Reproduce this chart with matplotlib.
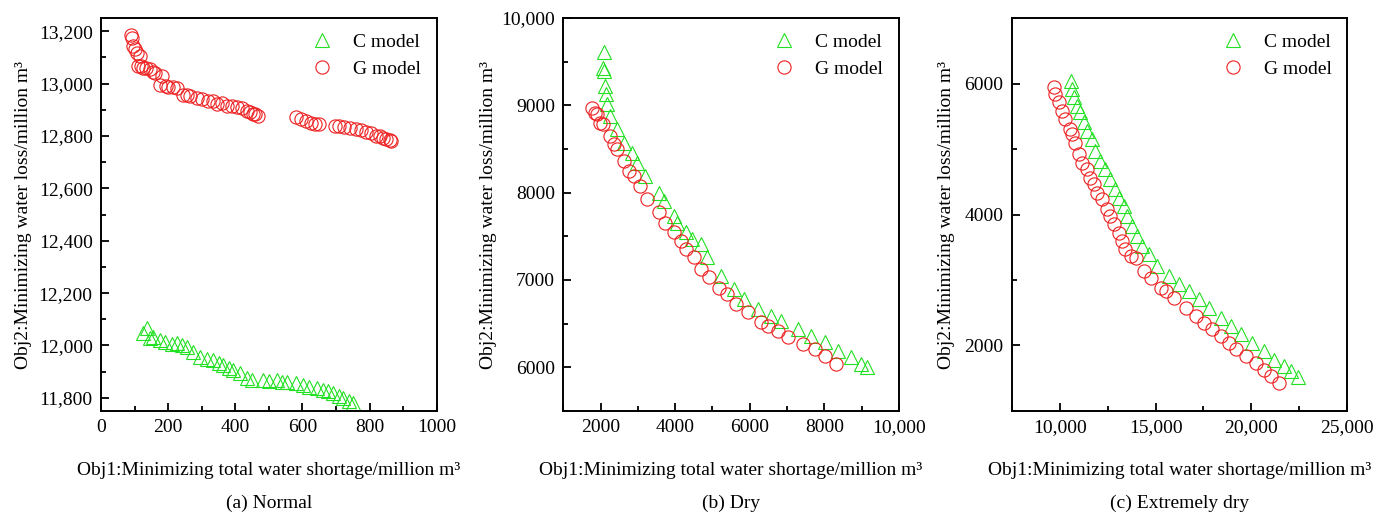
import matplotlib
matplotlib.use("Agg")
import matplotlib.pyplot as plt
from matplotlib.ticker import MultipleLocator, FuncFormatter

plt.rcParams['font.family'] = ['Liberation Serif', 'DejaVu Serif']

# (a) Normal
normal_c_x = [126, 136, 145, 156, 175, 190, 210, 225, 240, 255, 275, 295, 315, 334, 350, 364,
              380, 394, 415, 434, 450, 483, 500, 523, 540, 553, 580, 602, 620, 642, 660, 675,
              691, 710, 721, 740, 751]
normal_c_y = [12047, 12066, 12030, 12034, 12020, 12015, 12005, 12008, 12000, 11995, 11975, 11957,
              11950, 11945, 11935, 11925, 11915, 11906, 11895, 11875, 11870, 11868, 11865, 11868,
              11860, 11862, 11855, 11849, 11840, 11836, 11830, 11825, 11817, 11808, 11798, 11790,
              11779]
normal_g_x = [88, 91, 94, 100, 106, 111, 116, 120, 126, 135, 146, 155, 161, 176, 181, 195, 200,
              215, 225, 245, 255, 265, 285, 300, 320, 335, 345, 360, 374, 390, 404, 420, 434,
              445, 454, 460, 469, 582, 595, 612, 625, 637, 650, 696, 710, 725, 741, 760, 775,
              790, 805, 820, 830, 840, 850, 860, 865]
normal_g_y = [13187, 13175, 13143, 13130, 13117, 13066, 13105, 13065, 13060, 13058, 13054, 13045,
              13041, 12996, 13028, 12990, 12988, 12985, 12984, 12958, 12955, 12951, 12945, 12939,
              12935, 12932, 12923, 12925, 12916, 12913, 12909, 12905, 12894, 12892, 12885, 12882,
              12875, 12873, 12866, 12856, 12850, 12847, 12845, 12839, 12836, 12835, 12830, 12828,
              12824, 12814, 12810, 12801, 12798, 12792, 12790, 12783, 12780]

# (b) Dry
dry_c_x = [2105, 2078, 2100, 2124, 2140, 2170, 2259, 2439, 2617, 2843, 2978, 3202, 3560, 3695,
           3964, 4057, 4280, 4461, 4685, 4866, 5224, 5583, 5852, 6213, 6571, 6841, 7290, 7649,
           8008, 8369, 8728, 8997, 9132]
dry_c_y = [9610, 9431, 9392, 9221, 9126, 9011, 8878, 8725, 8573, 8459, 8344, 8191, 8001, 7905,
           7734, 7658, 7544, 7467, 7410, 7258, 7048, 6895, 6781, 6666, 6590, 6533, 6437, 6361,
           6285, 6189, 6113, 6038, 6000]
dry_g_x = [1765, 1854, 1900, 1989, 2078, 2259, 2348, 2439, 2617, 2752, 2887, 3067, 3248, 3560,
           3741, 3964, 4145, 4280, 4504, 4685, 4909, 5178, 5404, 5628, 5943, 6302, 6482, 6751,
           7021, 7425, 7738, 8008, 8323]
dry_g_y = [8974, 8916, 8897, 8802, 8783, 8649, 8554, 8497, 8363, 8248, 8191, 8077, 7925, 7773,
           7658, 7544, 7448, 7353, 7258, 7124, 7029, 6914, 6838, 6724, 6628, 6514, 6476, 6419,
           6343, 6266, 6209, 6133, 6038]

# (c) Extremely dry
xdry_c_x = [10596, 10648, 10732, 10909, 11082, 11254, 11432, 11693, 11865, 12127, 12388, 12649,
            12910, 13083, 13344, 13522, 13783, 14044, 14305, 14650, 15089, 15695, 16218, 16740,
            17263, 17785, 18397, 18919, 19442, 20053, 20659, 21181, 21704, 22054, 22403]
xdry_c_y = [6041, 5914, 5787, 5659, 5558, 5405, 5277, 5150, 4971, 4818, 4691, 4538, 4385, 4258,
            4130, 3977, 3824, 3671, 3518, 3390, 3213, 3060, 2933, 2830, 2703, 2576, 2424, 2295,
            2168, 2041, 1913, 1786, 1684, 1607, 1520]
xdry_g_x = [9686, 9775, 9948, 10125, 10298, 10559, 10648, 10820, 10993, 11170, 11432, 11604,
            11777, 11954, 12215, 12477, 12649, 12821, 13083, 13260, 13433, 13694, 13955, 14389,
            14739, 15262, 15523, 15957, 16568, 17090, 17524, 17963, 18397, 18830, 19180, 19703,
            20226, 20659, 21009, 21443]
xdry_g_y = [5940, 5838, 5711, 5582, 5456, 5303, 5226, 5099, 4920, 4793, 4691, 4564, 4462, 4335,
            4232, 4079, 3977, 3850, 3723, 3595, 3468, 3365, 3341, 3136, 3035, 2882, 2830, 2729,
            2576, 2448, 2347, 2245, 2142, 2041, 1939, 1836, 1735, 1633, 1531, 1430]

captions = ["(a) Normal", "(b) Dry", "(c) Extremely dry"]
xlabel = "Obj1:Minimizing total water shortage/million m\u00b3"
ylabel = "Obj2:Minimizing water loss/million m\u00b3"

green = '#22e022'
red = '#ee2020'
fs = 14


def fmt(v, pos):
    # thousands separator only from 10,000 up, like the original
    if abs(v) >= 10000:
        return "{:,.0f}".format(v)
    return "{:.0f}".format(v)


fig = plt.figure(figsize=(13.88, 5.16), dpi=100)
lefts = [0.0728, 0.4058, 0.7289]
axes = [fig.add_axes([l, 0.2035, 0.2418, 0.7616]) for l in lefts]

panels = [
    (normal_c_x, normal_c_y, normal_g_x, normal_g_y, (0, 1000), (11750, 13250), 200, 100, 200, 100, -0.205),
    (dry_c_x, dry_c_y, dry_g_x, dry_g_y, (1000, 10000), (5500, 10000), 2000, 1000, 1000, 500, -0.196),
    (xdry_c_x, xdry_c_y, xdry_g_x, xdry_g_y, (7500, 25000), (1000, 7000), 5000, 2500, 2000, 1000, -0.17),
]

for ax, p, cap in zip(axes, panels, captions):
    cx, cy, gx, gy, xl, yl, xmaj, xmin, ymaj, ymin, ylx = p
    ax.plot(cx, cy, linestyle='none', marker='^', markersize=10, mfc='none',
            mec=green, mew=0.8, label='C model')
    ax.plot(gx, gy, linestyle='none', marker='o', markersize=9.5, mfc='none',
            mec=red, mew=0.8, label='G model')
    ax.set_xlim(*xl)
    ax.set_ylim(*yl)
    ax.xaxis.set_major_locator(MultipleLocator(xmaj))
    ax.xaxis.set_minor_locator(MultipleLocator(xmin))
    ax.yaxis.set_major_locator(MultipleLocator(ymaj))
    ax.yaxis.set_minor_locator(MultipleLocator(ymin))
    ax.xaxis.set_major_formatter(FuncFormatter(fmt))
    ax.yaxis.set_major_formatter(FuncFormatter(fmt))
    ax.tick_params(which='both', direction='in', width=1.3, labelsize=fs, pad=6)
    ax.tick_params(which='major', length=6)
    ax.tick_params(which='minor', length=3.5)
    for s in ax.spines.values():
        s.set_linewidth(1.4)
    ax.set_xlabel(xlabel, fontsize=fs)
    ax.xaxis.set_label_coords(0.5, -0.13)
    ax.set_ylabel(ylabel, fontsize=fs)
    ax.yaxis.set_label_coords(ylx, 0.5)
    ax.text(0.5, -0.234, cap, transform=ax.transAxes, ha='center', va='center', fontsize=fs)
    ax.legend(loc='upper right', frameon=False, fontsize=fs, handletextpad=1.0,
              labelspacing=0.45, borderaxespad=0.4, handlelength=1.2)

fig.savefig('out.png', dpi=100)
